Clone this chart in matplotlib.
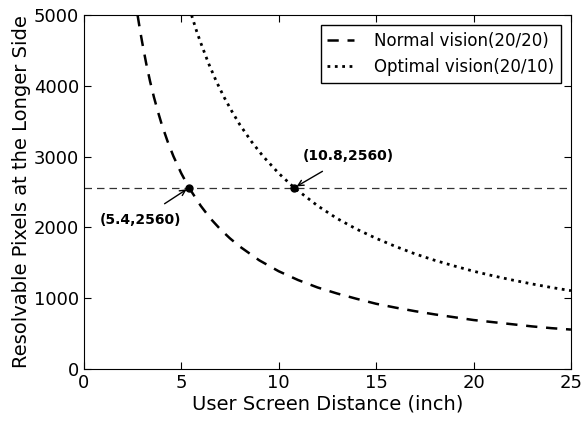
import matplotlib
matplotlib.use("Agg")
import matplotlib.pyplot as plt

# values
normal_x = [2.76, 2.9, 3.0, 3.2, 3.4, 3.6, 3.8, 4.0, 4.3, 4.6, 5.0, 5.4, 6.0, 6.5, 7.0, 7.5, 8, 9, 10, 11, 12, 13, 14, 15,
            16, 17, 18, 19, 20, 21, 22, 23, 24, 25]
normal_y = [5000, 4765, 4610, 4320, 4065, 3840, 3640, 3455, 3215, 3005, 2765, 2560, 2305, 2125, 1975, 1845, 1730, 1535,
            1380, 1255, 1150, 1065, 990, 920, 865, 815, 770, 730, 690, 660, 630, 600, 575, 555]

optimal_x = [5.53, 5.8, 6.0, 6.4, 6.8, 7.2, 7.6, 8.0, 8.6, 9.2, 10.0, 10.8, 12, 13, 14, 15, 16, 17, 18, 19, 20, 21, 22,
             23, 24, 25]
optimal_y = [5000, 4765, 4610, 4320, 4065, 3840, 3640, 3455, 3215, 3005, 2765, 2560, 2305, 2125, 1975, 1845, 1730, 1625,
             1535, 1455, 1380, 1315, 1255, 1200, 1150, 1105]

ref_y = 2560
points = [(5.4, 2560), (10.8, 2560)]
labels = ["(5.4,2560)", "(10.8,2560)"]
label_pos = [(2.9, 2110), (13.6, 3010)]

plt.rcParams['xtick.direction'] = 'in'
plt.rcParams['ytick.direction'] = 'in'
plt.rcParams['xtick.top'] = True
plt.rcParams['ytick.right'] = True
plt.rcParams['xtick.major.size'] = 5
plt.rcParams['ytick.major.size'] = 5

fig, ax = plt.subplots(figsize=(5.82, 4.22), dpi=100)
fig.subplots_adjust(left=0.144, right=0.981, top=0.964, bottom=0.126)

ax.plot(normal_x, normal_y, color='black', lw=1.8, dashes=(4.5, 3.5), label='Normal vision(20/20)')
ax.plot(optimal_x, optimal_y, color='black', lw=2, linestyle=':', label='Optimal vision(20/10)')
ax.axhline(ref_y, color='#333333', lw=0.9, dashes=(6, 4))

for (px, py), txt, (tx, ty) in zip(points, labels, label_pos):
    ax.plot(px, py, 'o', color='black', ms=5)
    ax.annotate(txt, xy=(px, py), xytext=(tx, ty), ha='center', va='center',
                fontsize=10, fontweight='bold',
                arrowprops=dict(arrowstyle='->', color='black', lw=1,
                                shrinkA=8, shrinkB=2))

ax.set_xlim(0, 25)
ax.set_ylim(0, 5000)
ax.set_xticks([0, 5, 10, 15, 20, 25])
ax.set_yticks([0, 1000, 2000, 3000, 4000, 5000])
ax.tick_params(labelsize=13, width=0.8)
ax.set_xlabel('User Screen Distance (inch)', fontsize=14, labelpad=2)
ax.set_ylabel('Resolvable Pixels at the Longer Side', fontsize=14, labelpad=2)

leg = ax.legend(loc='upper right', fontsize=12, fancybox=False, framealpha=1,
                handlelength=1.6, handletextpad=1.2, borderpad=0.4, borderaxespad=0.6)
leg.get_frame().set_edgecolor('black')

fig.savefig('out.png', dpi=100)
